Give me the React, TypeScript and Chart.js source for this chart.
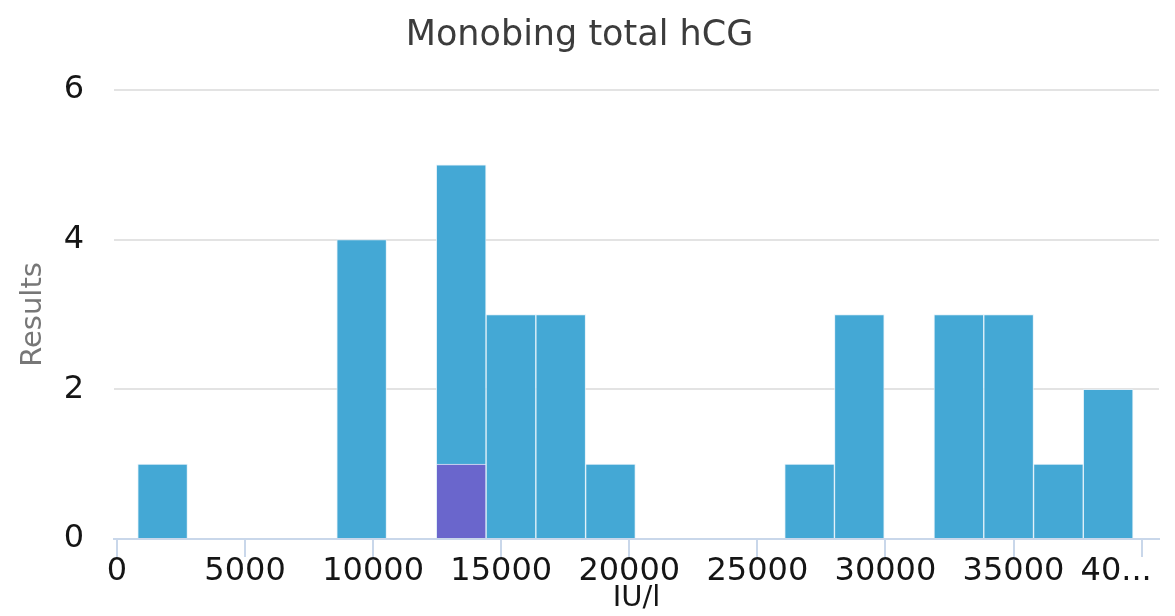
import React, { useEffect, useRef } from "react";
import { Chart, registerables } from "chart.js";

Chart.register(...registerables);

const chartTitle = "Monobing total hCG";
const xTitle = "IU/l";
const yTitle = "Results";

// histogram bin centres (IU/l)
const binCenters = [
  1780, 3722, 5665, 7608, 9551, 11494, 13437, 15380, 17323, 19266,
  21209, 23152, 25095, 27038, 28981, 30924, 32867, 34810, 36753, 38696,
];
// highlighted result (purple)
const highlightCounts = [0, 0, 0, 0, 0, 0, 1, 0, 0, 0, 0, 0, 0, 0, 0, 0, 0, 0, 0, 0];
// other results (blue)
const otherCounts = [1, 0, 0, 0, 4, 0, 4, 3, 3, 1, 0, 0, 0, 1, 3, 0, 3, 3, 1, 2];

const xTickValues = [0, 5000, 10000, 15000, 20000, 25000, 30000, 35000, 40000];
const xTickLabels = ["0", "5000", "10000", "15000", "20000", "25000", "30000", "35000", "40...     "];
const yTickValues = [0, 2, 4, 6];

const FONT = "'DejaVu Sans', sans-serif";

export default function App() {
  const ref = useRef<HTMLCanvasElement | null>(null);

  useEffect(() => {
    if (!ref.current) return;
    const chart = new Chart(ref.current, {
      type: "bar",
      data: {
        datasets: [
          {
            label: "Highlighted",
            data: binCenters.map((x, i) => ({ x, y: highlightCounts[i] })),
            backgroundColor: "#6a66cc",
            borderColor: "rgba(220,238,248,0.8)",
            borderWidth: 1,
            barPercentage: 1,
            categoryPercentage: 1,
          },
          {
            label: "Results",
            data: binCenters.map((x, i) => ({ x, y: otherCounts[i] })),
            backgroundColor: "#44a8d5",
            borderColor: "rgba(220,238,248,0.8)",
            borderWidth: 1,
            barPercentage: 1,
            categoryPercentage: 1,
          },
        ],
      },
      options: {
        animation: false,
        responsive: true,
        maintainAspectRatio: false,
        layout: { padding: { left: 0, right: 16, top: 0, bottom: 0 } },
        plugins: {
          legend: { display: false },
          tooltip: { enabled: false },
          title: {
            display: true,
            text: chartTitle,
            color: "#3c3c3c",
            font: { family: FONT, size: 35, weight: "normal" },
            padding: { top: 15, bottom: 33 },
          },
        },
        scales: {
          x: {
            type: "linear",
            position: "bottom",
            stacked: true,
            offset: false,
            min: -117,
            max: 40680,
            afterBuildTicks: (scale: any) => {
              scale.ticks = xTickValues.map((v) => ({ value: v }));
            },
            afterFit: (scale: any) => {
              scale.paddingLeft = 0;
              scale.paddingRight = 0;
              scale.height = 77;
            },
            ticks: {
              autoSkip: false,
              maxRotation: 0,
              minRotation: 0,
              padding: -5,
              color: "#151515",
              font: { family: FONT, size: 32 },
              callback: (value: any, index: number) => xTickLabels[index],
            },
            grid: {
              offset: false,
              drawOnChartArea: false,
              drawTicks: true,
              tickLength: 18,
              color: "#c9d7ea",
              lineWidth: 2,
            },
            border: { display: true, color: "#c9d7ea", width: 2 },
            title: {
              display: true,
              text: xTitle,
              color: "#151515",
              font: { family: FONT, size: 29 },
              padding: 0,
            },
          },
          y: {
            stacked: true,
            min: 0,
            max: 6,
            afterBuildTicks: (scale: any) => {
              scale.ticks = yTickValues.map((v) => ({ value: v }));
            },
            afterFit: (scale: any) => {
              scale.width = 114;
            },
            ticks: {
              padding: 30,
              color: "#151515",
              font: { family: FONT, size: 32 },
            },
            grid: {
              drawTicks: false,
              color: (ctx: any) => (ctx.tick && ctx.tick.value === 0 ? "rgba(0,0,0,0)" : "#e3e3e3"),
              lineWidth: 2,
            },
            border: { display: false },
            title: {
              display: true,
              text: yTitle,
              color: "#777",
              font: { family: FONT, size: 29 },
              padding: { top: 16, bottom: 0 },
            },
          },
        },
      },
    } as any);
    return () => chart.destroy();
  }, []);

  return (
    <div style={{ position: "fixed", left: 0, top: 0, width: 1175, height: 616, background: "#fff" }}>
      <canvas ref={ref} />
    </div>
  );
}
